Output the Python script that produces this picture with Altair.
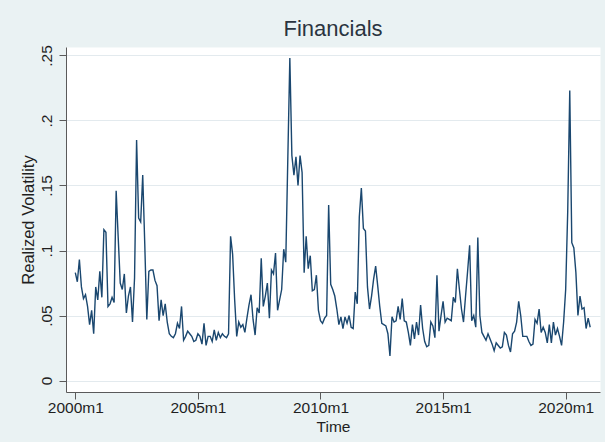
import altair as alt
import pandas as pd

# Monthly realized volatility of the financials sector, 2000m1 - 2021m1
vol_2000 = [0.083, 0.076, 0.093, 0.072, 0.063, 0.066, 0.057, 0.043, 0.054, 0.036, 0.072, 0.062]
vol_2001 = [0.084, 0.064, 0.116, 0.114, 0.057, 0.059, 0.064, 0.060, 0.146, 0.110, 0.075, 0.070]
vol_2002 = [0.082, 0.052, 0.065, 0.072, 0.045, 0.079, 0.185, 0.125, 0.122, 0.158, 0.105, 0.047]
vol_2003 = [0.084, 0.085, 0.085, 0.077, 0.073, 0.046, 0.062, 0.050, 0.059, 0.045, 0.036, 0.034]
vol_2004 = [0.033, 0.036, 0.044, 0.040, 0.057, 0.031, 0.034, 0.038, 0.036, 0.034, 0.030, 0.031]
vol_2005 = [0.036, 0.034, 0.028, 0.044, 0.027, 0.034, 0.034, 0.030, 0.039, 0.031, 0.037, 0.033]
vol_2006 = [0.036, 0.034, 0.033, 0.036, 0.111, 0.097, 0.062, 0.034, 0.045, 0.041, 0.043, 0.037]
vol_2007 = [0.048, 0.058, 0.066, 0.047, 0.035, 0.056, 0.052, 0.094, 0.057, 0.065, 0.075, 0.048]
vol_2008 = [0.085, 0.082, 0.098, 0.054, 0.062, 0.070, 0.101, 0.091, 0.170, 0.248, 0.173, 0.158]
vol_2009 = [0.172, 0.150, 0.173, 0.160, 0.083, 0.111, 0.086, 0.096, 0.069, 0.070, 0.081, 0.054]
vol_2010 = [0.046, 0.044, 0.048, 0.050, 0.135, 0.074, 0.070, 0.065, 0.055, 0.043, 0.049, 0.040]
vol_2011 = [0.049, 0.044, 0.050, 0.041, 0.040, 0.068, 0.059, 0.126, 0.148, 0.117, 0.115, 0.072]
vol_2012 = [0.055, 0.065, 0.078, 0.088, 0.073, 0.057, 0.044, 0.043, 0.042, 0.036, 0.019, 0.049]
vol_2013 = [0.045, 0.046, 0.057, 0.047, 0.063, 0.046, 0.045, 0.037, 0.027, 0.043, 0.032, 0.045]
vol_2014 = [0.035, 0.058, 0.040, 0.030, 0.026, 0.027, 0.045, 0.042, 0.033, 0.081, 0.038, 0.050]
vol_2015 = [0.061, 0.045, 0.048, 0.047, 0.046, 0.064, 0.060, 0.086, 0.070, 0.055, 0.045, 0.065]
vol_2016 = [0.084, 0.104, 0.046, 0.050, 0.041, 0.110, 0.050, 0.037, 0.034, 0.031, 0.036, 0.032]
vol_2017 = [0.028, 0.023, 0.029, 0.027, 0.025, 0.026, 0.037, 0.035, 0.027, 0.022, 0.036, 0.038]
vol_2018 = [0.045, 0.061, 0.050, 0.034, 0.034, 0.034, 0.030, 0.027, 0.028, 0.047, 0.044, 0.055]
vol_2019 = [0.037, 0.041, 0.037, 0.029, 0.043, 0.029, 0.045, 0.035, 0.040, 0.034, 0.027, 0.045]
vol_2020 = [0.070, 0.130, 0.223, 0.106, 0.102, 0.083, 0.050, 0.065, 0.055, 0.056, 0.040, 0.048]
vol_2021 = [0.041]

years = list(range(2000, 2022))
series = [vol_2000, vol_2001, vol_2002, vol_2003, vol_2004, vol_2005, vol_2006,
          vol_2007, vol_2008, vol_2009, vol_2010, vol_2011, vol_2012, vol_2013,
          vol_2014, vol_2015, vol_2016, vol_2017, vol_2018, vol_2019, vol_2020,
          vol_2021]

x_ticks = [0, 60, 120, 180, 240]
x_tick_labels = ["2000m1", "2005m1", "2010m1", "2015m1", "2020m1"]
y_ticks = [0, 0.05, 0.10, 0.15, 0.20, 0.25]
y_tick_labels = ["0", ".05", ".1", ".15", ".2", ".25"]

rows = []
for year, vals in zip(years, series):
    for i, v in enumerate(vals):
        rows.append({"t": (year - 2000) * 12 + i, "period": f"{year}m{i + 1}", "vol": v})
df = pd.DataFrame(rows)

x_label_expr = "[" + ",".join(f"'{s}'" for s in x_tick_labels) + "][round(datum.value / 60)]"
y_label_expr = "[" + ",".join(f"'{s}'" for s in y_tick_labels) + "][round(datum.value * 20)]"

FONT = "Liberation Sans"
TEXT = "#1f1f1f"
AXIS = "#5a5a5a"

chart = (
    alt.Chart(df)
    .mark_line(color="#1a476f", strokeWidth=1.4, clip=True)
    .encode(
        x=alt.X(
            "t:Q",
            scale=alt.Scale(domain=[-4.55, 256.8], nice=False, zero=False),
            axis=alt.Axis(
                values=x_ticks,
                labelExpr=x_label_expr,
                title="Time",
                grid=False,
                tickSize=7,
                labelPadding=1,
                labelFontSize=15.5,
                titleFontSize=15.5,
                titleFontWeight="normal",
                titleY=34,
                titleBaseline="middle",
            ),
        ),
        y=alt.Y(
            "vol:Q",
            scale=alt.Scale(domain=[-0.0088, 0.2565], nice=False, zero=False),
            axis=alt.Axis(
                values=y_ticks,
                labelExpr=y_label_expr,
                title="Realized Volatility",
                grid=True,
                gridColor="#e3eaee",
                gridWidth=1,
                tickSize=7,
                labelAngle=270,
                labelAlign="center",
                labelBaseline="middle",
                labelPadding=13,
                labelFontSize=15.5,
                titleFontSize=16.5,
                titleFontWeight="normal",
                titleAngle=270,
                titleX=-38,
                titleY=172.5,
                titleAlign="center",
                titleBaseline="middle",
            ),
        ),
    )
    .properties(
        width=534,
        height=345,
        title=alt.TitleParams(
            "Financials",
            fontSize=22,
            font=FONT,
            fontWeight="normal",
            color="#2a3440",
            anchor="middle",
            offset=4,
        ),
        autosize=alt.AutoSizeParams(type="none"),
        padding={"left": 66, "top": 47, "right": 5, "bottom": 50},
        background="#eaf2f3",
    )
    .configure_view(fill="white", stroke="transparent")
    .configure_axis(
        labelFont=FONT,
        titleFont=FONT,
        labelColor=TEXT,
        titleColor=TEXT,
        domainColor=AXIS,
        tickColor=AXIS,
        domainWidth=1,
        tickWidth=1,
    )
)

chart.save("out.html", embed_options={"renderer": "svg", "actions": False})
